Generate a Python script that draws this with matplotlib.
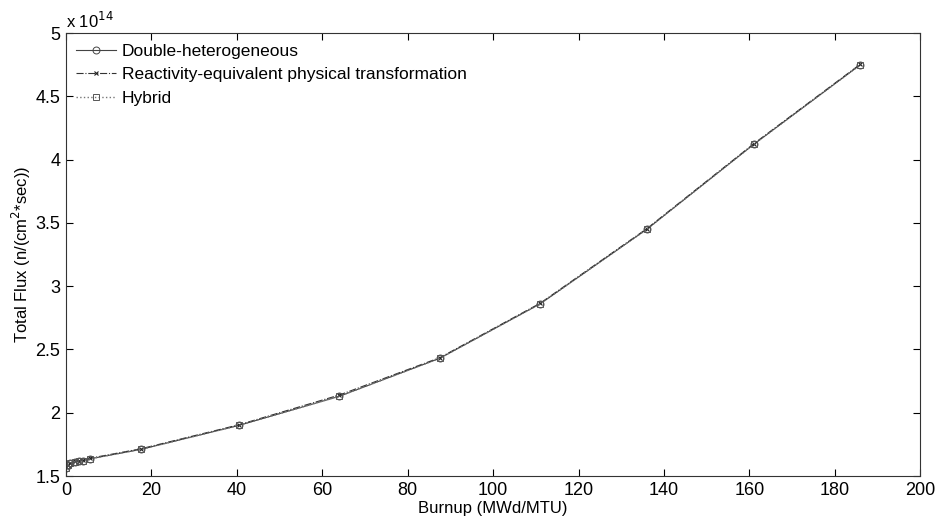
import matplotlib
matplotlib.use("Agg")
import matplotlib.pyplot as plt

plt.rcParams["font.family"] = ["Liberation Sans", "DejaVu Sans"]

# burnup (MWd/MTU) and total flux (x 1e14 n/(cm^2*sec))
burnup = [0, 0.5, 1, 2, 3, 4, 5.5, 17.5, 40.5, 64, 87.5, 111, 136, 161, 186]
flux_dh = [1.56, 1.59, 1.60, 1.61, 1.62, 1.62, 1.635, 1.71, 1.90, 2.13, 2.43, 2.86, 3.45, 4.12, 4.75]
flux_re = [1.57, 1.59, 1.60, 1.615, 1.62, 1.625, 1.64, 1.715, 1.905, 2.14, 2.435, 2.865, 3.455, 4.125, 4.755]
flux_hy = [1.56, 1.59, 1.60, 1.61, 1.62, 1.62, 1.635, 1.71, 1.90, 2.13, 2.43, 2.86, 3.45, 4.12, 4.75]

fig = plt.figure(figsize=(9.39, 5.25), dpi=100)
ax = fig.add_axes([0.0703, 0.0933, 0.9097, 0.8437])

ax.plot(burnup, flux_dh, "-", color="#444444", lw=0.8, marker="o", ms=5,
        mfc="none", mec="#444444", mew=0.7, label="Double-heterogeneous")
ax.plot(burnup, flux_re, "-.", color="#333333", lw=0.8, marker="x", ms=3,
        mec="#222222", mew=0.8, label="Reactivity-equivalent physical transformation")
ax.plot(burnup, flux_hy, ":", color="#777777", lw=1.0, marker="s", ms=5,
        mfc="none", mec="#555555", mew=0.7, label="Hybrid")

ax.set_xlim(0, 200)
ax.set_ylim(1.5, 5)
ax.set_xticks(range(0, 201, 20))
ax.set_yticks([1.5, 2, 2.5, 3, 3.5, 4, 4.5, 5])
ax.set_yticklabels(["1.5", "2", "2.5", "3", "3.5", "4", "4.5", "5"])
ax.tick_params(direction="in", top=True, right=True, labelsize=13, length=5, width=0.8, pad=4)
for s in ax.spines.values():
    s.set_linewidth(0.8)
    s.set_color("#333333")

ax.set_xlabel("Burnup (MWd/MTU)", fontsize=12, labelpad=2)
ax.set_ylabel("Total Flux (n/(cm$^2$*sec))", fontsize=12, labelpad=2)
ax.text(0.0, 1.005, r"x 10$^{14}$", transform=ax.transAxes, fontsize=12, va="bottom", ha="left")

ax.legend(loc="upper left", frameon=False, fontsize=12.5, handlelength=2.3,
          borderaxespad=0.2, labelspacing=0.5, handletextpad=0.3)

fig.savefig("out.png", dpi=100)
